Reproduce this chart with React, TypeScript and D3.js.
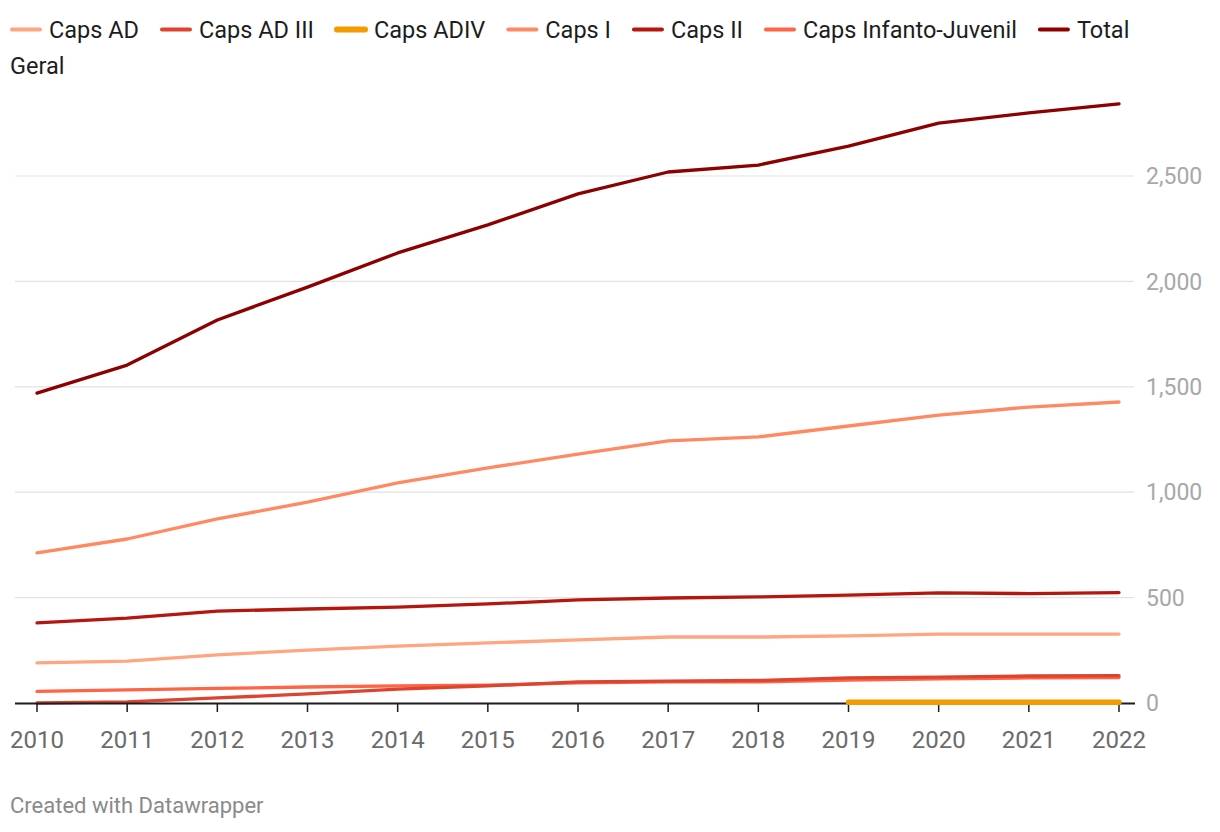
import React, { useEffect, useRef } from "react";
import * as d3 from "d3";

const years = [2010, 2011, 2012, 2013, 2014, 2015, 2016, 2017, 2018, 2019, 2020, 2021, 2022];
const capsAD = [190, 199, 228, 251, 270, 285, 299, 313, 313, 318, 327, 327, 327];
const capsADIII = [0, 5, 24, 43, 66, 81, 100, 104, 107, 119, 123, 128, 130];
const capsADIV: (number | null)[] = [null, null, null, null, null, null, null, null, null, 3, 3, 3, 3];
const capsI = [712, 778, 873, 953, 1044, 1115, 1181, 1243, 1262, 1314, 1366, 1404, 1428];
const capsII = [380, 403, 436, 446, 455, 470, 489, 498, 503, 512, 522, 519, 524];
const capsIJ = [55, 62, 69, 76, 81, 85, 95, 100, 100, 109, 114, 119, 121];
const totalGeral = [1470, 1603, 1817, 1973, 2135, 2268, 2415, 2519, 2552, 2642, 2751, 2799, 2842];
const yTicks = [0, 500, 1000, 1500, 2000, 2500];

const seriesNames = ["Caps AD", "Caps AD III", "Caps ADIV", "Caps I", "Caps II", "Caps Infanto-Juvenil", "Total Geral"];
const seriesValues = [capsAD, capsADIII, capsADIV, capsI, capsII, capsIJ, totalGeral];
const seriesColors = ["#ffa580", "#dd4430", "#f49b00", "#ff8a62", "#b5170f", "#ff6445", "#8c0000"];
const seriesWidths = [3.3, 3.3, 5.5, 3.3, 3.3, 3.3, 3.3];
const drawOrder = [0, 5, 1, 3, 4, 6];

export default function App() {
  const ref = useRef<SVGSVGElement>(null);
  useEffect(() => {
    const svg = d3.select(ref.current);
    svg.selectAll("*").remove();
    const font = "Roboto, sans-serif";
    const x = d3.scaleLinear().domain([2010, 2022]).range([37, 1119]);
    const y = d3.scaleLinear().domain([0, 2500]).range([703, 176]);

    const g = svg.append("g");
    yTicks.filter((t) => t > 0).forEach((t) => {
      g.append("line").attr("x1", 15).attr("x2", 1134).attr("y1", y(t)).attr("y2", y(t))
        .attr("stroke", "#e2e2e2").attr("stroke-width", 1.2);
    });
    yTicks.forEach((t) => {
      g.append("text").attr("x", 1146).attr("y", y(t)).attr("dy", "0.36em")
        .attr("font-family", font).attr("font-size", 23).attr("fill", "#a8a8a8")
        .text(d3.format(",")(t));
    });

    const makeLine = () => d3.line<{ yr: number; v: number | null }>()
      .defined((d) => d.v !== null)
      .x((d) => x(d.yr)).y((d) => y(d.v as number));

    const drawSeries = (i: number) => {
      const vals = seriesValues[i];
      const pts = years.map((yr, k) => ({ yr, v: vals[k] }));
      svg.append("path").attr("d", makeLine()(pts) || "").attr("fill", "none")
        .attr("stroke", seriesColors[i]).attr("stroke-width", seriesWidths[i])
        .attr("stroke-linecap", "round").attr("stroke-linejoin", "round");
    };
    drawOrder.forEach(drawSeries);

    svg.append("line").attr("x1", 15).attr("x2", 1135).attr("y1", 703.5).attr("y2", 703.5)
      .attr("stroke", "#1d1d1d").attr("stroke-width", 2);
    years.forEach((yr) => {
      svg.append("line").attr("x1", x(yr)).attr("x2", x(yr)).attr("y1", 703).attr("y2", 712)
        .attr("stroke", "#1d1d1d").attr("stroke-width", 1.5);
      svg.append("text").attr("x", x(yr)).attr("y", 748).attr("text-anchor", "middle")
        .attr("font-family", font).attr("font-size", 24).attr("fill", "#6b6b6b").text(String(yr));
    });
    drawSeries(2);

    const lg = svg.append("g");
    let lx = 10;
    seriesNames.forEach((name, i) => {
      lg.append("line").attr("x1", lx + 2).attr("x2", lx + 30).attr("y1", 29.5).attr("y2", 29.5)
        .attr("stroke", seriesColors[i]).attr("stroke-width", i === 2 ? 6 : 4).attr("stroke-linecap", "round");
      const label = name === "Total Geral" ? "Total" : name;
      const t = lg.append("text").attr("x", lx + 39).attr("y", 38)
        .attr("font-family", font).attr("font-size", 23.5).attr("fill", "#1d1d1d").text(label);
      const w = (t.node() as SVGTextElement).getComputedTextLength();
      lx = lx + 39 + w + 21;
    });
    lg.append("text").attr("x", 10).attr("y", 74).attr("font-family", font).attr("font-size", 23.5)
      .attr("fill", "#1d1d1d").text("Geral");

    svg.append("text").attr("x", 10).attr("y", 813).attr("font-family", font).attr("font-size", 22)
      .attr("fill", "#8a8a8a").text("Created with Datawrapper");
  }, []);
  return (
    <svg ref={ref} width={1220} height={832} style={{ position: "absolute", left: 0, top: 0, background: "#fff" }} />
  );
}
